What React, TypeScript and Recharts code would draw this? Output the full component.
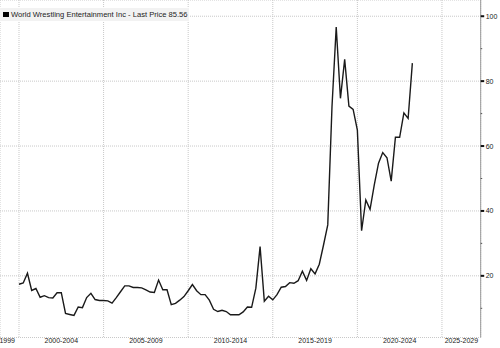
import * as React from 'react'
import { LineChart, Line, XAxis, YAxis, CartesianGrid } from 'recharts'

// quarterly closes, first one is 2000 Q1
const firstYear = 2000
const price = [
  17.4, 17.8, 20.8, 15.5, 16.1, 13.4, 13.9, 13.3, 13.2, 14.8, 14.8,
  8.4, 8.1, 7.8, 10.4, 10.2, 13.3, 14.6, 12.7, 12.4, 12.4,
  12.3, 11.6, 13.3, 15.1, 16.9, 16.9, 16.4, 16.4, 16.3, 15.7,
  15.0, 14.9, 18.7, 15.7, 15.7, 11.1, 11.5, 12.5, 13.6, 15.4,
  17.3, 15.4, 14.2, 14.2, 12.5, 9.7, 9.0, 9.4, 9.0, 8.0,
  8.0, 8.0, 8.9, 10.4, 10.3, 16.2, 29.0, 12.2, 13.7, 12.6,
  14.2, 16.5, 16.7, 17.9, 17.7, 18.5, 21.4, 18.6, 22.2, 20.6,
  23.6, 29.5, 35.7, 72.1, 96.7, 74.7, 86.7, 72.3, 71.3, 64.9,
  33.9, 43.4, 40.5, 48, 54.7, 58.0, 56.4, 49.2, 62.7, 62.7,
  70.2, 68.5, 85.56,
]

const boundaryYears = [2000, 2005, 2010, 2015, 2020, 2025]
const minorYears = [
  1999, 2001, 2002, 2003, 2004, 2006, 2007, 2008, 2009, 2011, 2012, 2013,
  2014, 2016, 2017, 2018, 2019, 2021, 2022, 2023, 2024, 2026, 2027,
]
const periodLabels = ['1999', '2000-2004', '2005-2009', '2010-2014', '2015-2019', '2020-2024', '2025-2029']
const periodCenters = [1999.3, 2002.5, 2007.5, 2012.5, 2017.5, 2022.5, 2026.15]
const yTicks = [10, 20, 30, 40, 50, 60, 70, 80, 90, 100]
const yGrid = [20, 40, 60, 80, 100]

const data = price.map((p, i) => ({ t: firstYear + i / 4, price: p }))
const xDomain = [1998.877, 2027.29]

const FONT = '"Liberation Sans", Arial, sans-serif'

const YTick = (props: any) => {
  const { x, y, payload } = props
  if (payload.value % 20 !== 0) {
    return <rect x={x} y={y - 0.5} width={1.5} height={1} fill="#555" />
  }
  return (
    <g>
      <rect x={x} y={y - 1} width={3.5} height={2} fill="#111" />
      <text x={x + 5} y={y} dy={2.5} fontSize={7} fontFamily={FONT} fill="#222">
        {payload.value}
      </text>
    </g>
  )
}

const PeriodTick = (props: any) => {
  const { x, y, payload } = props
  const i = periodCenters.indexOf(payload.value)
  return (
    <text x={x} y={y} dy={5.5} textAnchor="middle" fontSize={7} fontFamily={FONT} fill="#222">
      {periodLabels[i]}
    </text>
  )
}

export default function App() {
  return (
    <div style={{ position: 'absolute', left: 0, top: 0, width: 500, height: 348, background: '#fff' }}>
      <LineChart width={500} height={348} data={data} margin={{ top: 0, right: 0, left: 0, bottom: 0 }}>
        <CartesianGrid yAxisId="grid" stroke="#c8c8c8" strokeDasharray="1 1" />
        <XAxis
          dataKey="t"
          type="number"
          domain={xDomain}
          ticks={boundaryYears}
          interval={0}
          allowDataOverflow
          height={0}
          tickFormatter={() => ''}
          tickSize={4}
          tickLine={{ stroke: '#111' }}
          axisLine={{ stroke: '#999' }}
        />
        <XAxis
          xAxisId="minor"
          dataKey="t"
          type="number"
          domain={xDomain}
          ticks={minorYears}
          interval={0}
          allowDataOverflow
          height={0}
          tickFormatter={() => ''}
          tickSize={2}
          tickLine={{ stroke: '#555' }}
          axisLine={false}
        />
        <XAxis
          xAxisId="lab"
          dataKey="t"
          type="number"
          domain={xDomain}
          ticks={periodCenters}
          interval={0}
          allowDataOverflow
          height={10.5}
          tickLine={false}
          axisLine={false}
          tickSize={0}
          tickMargin={0}
          tick={<PeriodTick />}
        />
        <YAxis
          orientation="right"
          domain={[1, 105]}
          ticks={yTicks}
          interval={0}
          allowDataOverflow
          width={19.3}
          tickLine={false}
          tickSize={0}
          tickMargin={0}
          axisLine={{ stroke: '#999' }}
          tick={<YTick />}
        />
        <YAxis yAxisId="grid" hide domain={[1, 105]} ticks={yGrid} allowDataOverflow />
        <Line
          type="linear"
          dataKey="price"
          stroke="#1a1a1a"
          strokeWidth={1.4}
          dot={false}
          activeDot={false}
          isAnimationActive={false}
        />
      </LineChart>
      <div
        style={{
          position: 'absolute',
          left: 0,
          top: 8,
          width: 189,
          height: 13,
          background: '#f2f2f2',
          display: 'flex',
          alignItems: 'center',
          fontFamily: FONT,
          fontSize: 7.6,
          color: '#222',
          whiteSpace: 'nowrap',
        }}
      >
        <span style={{ display: 'inline-block', width: 6, height: 5.5, background: '#000', marginLeft: 3, marginRight: 2 }} />
        World Wrestling Entertainment Inc - Last Price 85.56
      </div>
    </div>
  )
}
